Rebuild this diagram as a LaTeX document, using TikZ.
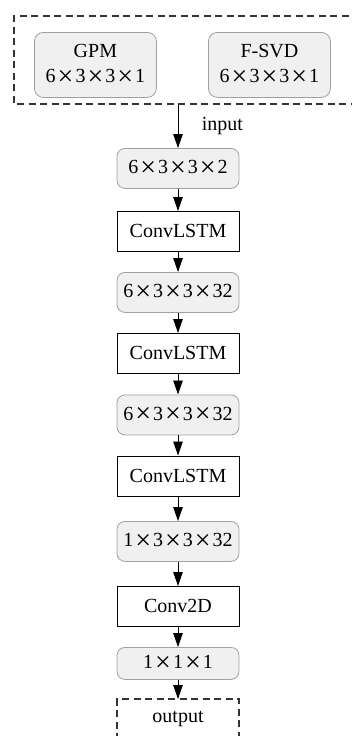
\documentclass[tikz,border=0pt]{standalone}
\usepackage{fontspec}
\setmainfont{Liberation Serif}
\usetikzlibrary{arrows.meta}
\definecolor{boxfill}{HTML}{F0F0F0}
\definecolor{boxline}{HTML}{A0A0A0}
\definecolor{dashline}{HTML}{333333}
\newcommand{\tx}{\hspace{0.1em}\raisebox{-0.13em}{\scalebox{1.4}{×}}\hspace{0.1em}}
\tikzset{
  x=1pt, y=-1pt,
  shapebox/.style={draw=boxline, fill=boxfill, rounded corners=8pt, line width=0.8pt,
    minimum width=122pt, minimum height=40pt, inner sep=0pt, font=\fontsize{20}{23}\selectfont, anchor=north},
  layerbox/.style={draw=black, fill=white, line width=0.9pt,
    minimum width=122pt, minimum height=40pt, inner sep=0pt, font=\fontsize{20}{23}\selectfont, anchor=north},
  srcbox/.style={draw=boxline, fill=boxfill, rounded corners=9pt, line width=0.8pt,
    minimum width=122pt, minimum height=65pt, inner sep=0pt, align=center,
    font=\fontsize{20}{25}\selectfont, anchor=north west},
  flow/.style={-{Triangle[length=14pt,width=9.5pt]}, line width=0.9pt},
  dashbox/.style={draw=dashline, line width=1.1pt, dash pattern=on 7pt off 4.5pt},
}
\begin{document}
\begin{tikzpicture}
\useasboundingbox (0,0) rectangle (352,736);
% input group
\draw[dashbox] (360,16) -- (14,16) -- (14,104) -- (360,104);
\coordinate (grp) at (178,104);
\node[srcbox] (gpm) at (34,32) {GPM\\6\tx 3\tx 3\tx 1};
\node[srcbox] (fsvd) at (208,32) {F-SVD\\6\tx 3\tx 3\tx 1};
% stack
\node[shapebox] (s1) at (178,148) {6\tx 3\tx 3\tx 2};
\node[layerbox] (l1) at (178,211) {ConvLSTM};
\node[shapebox] (s2) at (178,272) {6\tx 3\tx 3\tx 32};
\node[layerbox] (l2) at (178,333) {ConvLSTM};
\node[shapebox] (s3) at (178,394.5) {6\tx 3\tx 3\tx 32};
\node[layerbox] (l3) at (178,455.5) {ConvLSTM};
\node[shapebox] (s4) at (178,521) {1\tx 3\tx 3\tx 32};
\node[layerbox] (l4) at (178,586) {Conv2D};
\node[shapebox, minimum height=32pt] (s5) at (178,647) {1\tx 1\tx 1};
\coordinate (otop) at (178,699);
\draw[dashbox] (117,740) -- (117,699) -- (239,699) -- (239,740);
\node[font=\fontsize{20}{23}\selectfont] (out) at (178,719) {output};
% arrows
\draw[flow] (grp) -- (s1.north) node[midway, right=20pt, font=\fontsize{20}{23}\selectfont] (inp) {input};
\draw[flow] (s1) -- (l1);
\draw[flow] (l1) -- (s2);
\draw[flow] (s2) -- (l2);
\draw[flow] (l2) -- (s3);
\draw[flow] (s3) -- (l3);
\draw[flow] (l3) -- (s4);
\draw[flow] (s4) -- (l4);
\draw[flow] (l4) -- (s5);
\draw[flow] (s5) -- (otop);
\end{tikzpicture}
\end{document}
